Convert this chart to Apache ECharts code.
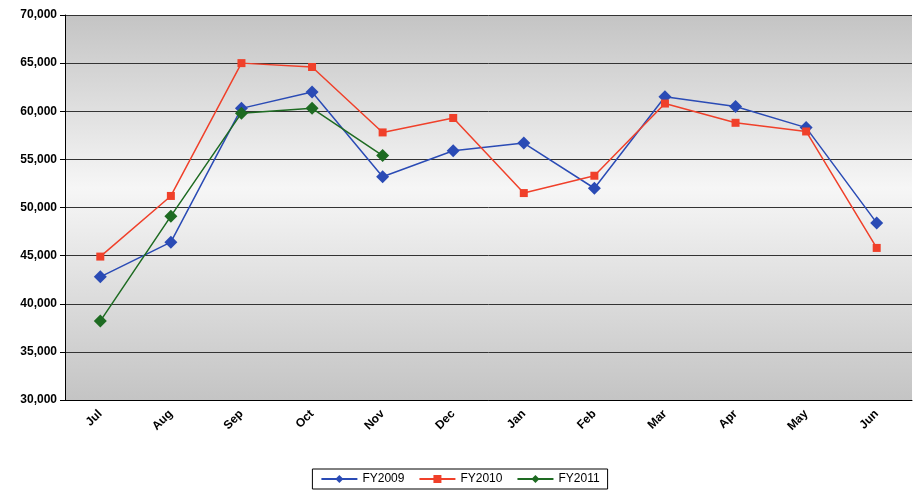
<!DOCTYPE html>
<html>
<head>
<meta charset="utf-8">
<script src="https://cdn.jsdelivr.net/npm/echarts@6/dist/echarts.min.js"></script>
<style>html,body{margin:0;background:#fff}#echart{width:920px;height:495px}</style>
</head>
<body>
<div id="echart"></div>
<script>
var months = ['Jul','Aug','Sep','Oct','Nov','Dec','Jan','Feb','Mar','Apr','May','Jun'];
var fy2009 = [42800,46400,60300,62000,53200,55900,56700,52000,61500,60500,58300,48400];
var fy2010 = [44900,51200,65000,64600,57800,59300,51500,53300,60800,58800,57900,45800];
var fy2011 = [38200,49100,59800,60300,55400];

var myChart = echarts.init(document.getElementById('echart'));

function line(name, data, color, symbol, size) {
  return {
    name: name, type: 'line', data: data,
    symbol: symbol, symbolSize: size,
    itemStyle: {color: color},
    lineStyle: {color: color, width: 1.5}
  };
}

var option = {
  animation: false,
  textStyle: {fontFamily: 'Liberation Sans, Arial'},
  grid: {
    left: 65, right: 8, top: 15, bottom: 95,
    show: true, borderWidth: 0,
    backgroundColor: new echarts.graphic.LinearGradient(0, 0, 0, 1, [
      {offset: 0, color: '#c4c4c4'},
      {offset: 0.45, color: '#f6f6f6'},
      {offset: 1, color: '#c4c4c4'}
    ])
  },
  legend: {
    bottom: 6, left: 'center',
    borderColor: '#000', borderWidth: 1, padding: [4, 8],
    itemWidth: 36, itemHeight: 10, itemGap: 14,
    textStyle: {fontSize: 12, color: '#000'},
    data: ['FY2009', 'FY2010', 'FY2011']
  },
  xAxis: {
    type: 'category', data: months, boundaryGap: true,
    axisLine: {lineStyle: {color: '#000'}},
    axisTick: {show: false},
    axisLabel: {rotate: 45, fontWeight: 'bold', fontSize: 12, color: '#000', margin: 12}
  },
  yAxis: {
    type: 'value', min: 30000, max: 70000, interval: 5000,
    axisLine: {show: true, lineStyle: {color: '#000'}},
    axisTick: {show: true, lineStyle: {color: '#000'}},
    splitLine: {lineStyle: {color: '#333', width: 1}},
    axisLabel: {fontWeight: 'bold', fontSize: 12, color: '#000',
      formatter: function (v) { return v.toLocaleString('en-US'); }}
  },
  series: [
    line('FY2009', fy2009, '#2a4bb5', 'diamond', 13),
    line('FY2010', fy2010, '#f0402a', 'rect', 8),
    line('FY2011', fy2011, '#1e6b22', 'diamond', 13)
  ]
};

myChart.setOption(option);
</script>
</body>
</html>
